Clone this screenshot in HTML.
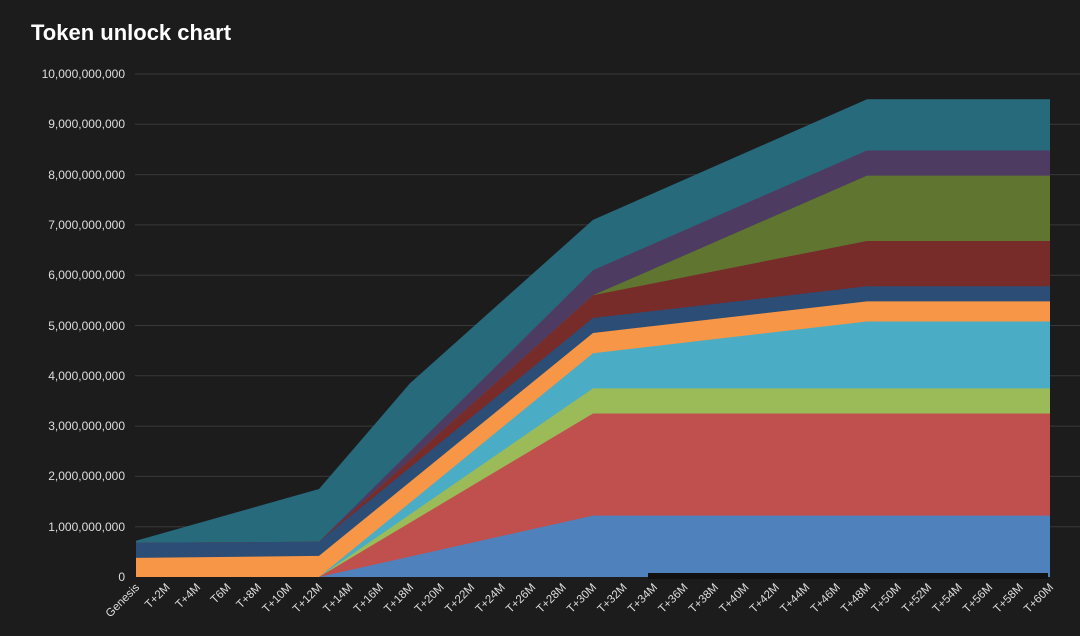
<!DOCTYPE html>
<html><head><meta charset="utf-8"><style>
html,body{margin:0;padding:0;background:#1b1b1b;}
svg{display:block;}
text{font-family:"Liberation Sans",sans-serif;}
</style></head><body>
<svg width="1080" height="636" viewBox="0 0 1080 636" xmlns="http://www.w3.org/2000/svg">
<rect width="1080" height="636" fill="#1c1c1c"/>
<text x="31" y="40" fill="#fff" font-size="22" font-weight="bold">Token unlock chart</text>
<g stroke="#383838" stroke-width="1">
<line x1="135" x2="1080" y1="526.7" y2="526.7"/><line x1="135" x2="1080" y1="476.4" y2="476.4"/>
<line x1="135" x2="1080" y1="426.1" y2="426.1"/><line x1="135" x2="1080" y1="375.8" y2="375.8"/>
<line x1="135" x2="1080" y1="325.5" y2="325.5"/><line x1="135" x2="1080" y1="275.2" y2="275.2"/>
<line x1="135" x2="1080" y1="224.9" y2="224.9"/><line x1="135" x2="1080" y1="174.6" y2="174.6"/>
<line x1="135" x2="1080" y1="124.3" y2="124.3"/><line x1="135" x2="1080" y1="74" y2="74"/>
</g>
<g fill="#ddd" font-size="12" text-anchor="end">
<text x="125" y="581">0</text><text x="125" y="531">1,000,000,000</text>
<text x="125" y="480">2,000,000,000</text><text x="125" y="430">3,000,000,000</text>
<text x="125" y="380">4,000,000,000</text><text x="125" y="330">5,000,000,000</text>
<text x="125" y="279">6,000,000,000</text><text x="125" y="229">7,000,000,000</text>
<text x="125" y="179">8,000,000,000</text><text x="125" y="128">9,000,000,000</text>
<text x="125" y="78">10,000,000,000</text>
</g>
<polygon fill="#276a7c" points="136,540.8 319,489 410,383.3 593,219.9 867,99.2 1050,99.2 1050,577 136,577"/>
<polygon fill="#4d3b62" points="136,542.8 319,541.8 593,270.2 867,150.5 1050,150.5 1050,577 136,577"/>
<polygon fill="#5f7530" points="136,542.8 319,541.8 593,295.3 867,175.6 1050,175.6 1050,577 136,577"/>
<polygon fill="#772c2a" points="136,542.8 319,541.8 593,295.3 867,241 1050,241 1050,577 136,577"/>
<polygon fill="#2c4d75" points="136,542.8 319,541.8 593,318 867,286.3 1050,286.3 1050,577 136,577"/>
<polygon fill="#f79646" points="136,557.9 319,555.9 593,333 867,301.4 1050,301.4 1050,577 136,577"/>
<polygon fill="#4bacc6" points="136,577 319,577 593,353.2 867,321.5 1050,321.5 1050,577 136,577"/>
<polygon fill="#9bbb59" points="136,577 319,577 593,388.4 867,388.4 1050,388.4 1050,577 136,577"/>
<polygon fill="#c0504d" points="136,577 319,577 593,413.5 867,413.5 1050,413.5 1050,577 136,577"/>
<polygon fill="#4f81bd" points="136,577 319,577 593,515.6 867,515.6 1050,515.6 1050,577 136,577"/>
<rect x="648" y="573" width="400" height="6" fill="#111"/>
<g fill="#ddd" font-size="11.5" text-anchor="end">
<text transform="translate(140,588) rotate(-45)">Genesis</text>
<text transform="translate(170.5,588) rotate(-45)">T+2M</text>
<text transform="translate(201,588) rotate(-45)">T+4M</text>
<text transform="translate(231.4,588) rotate(-45)">T6M</text>
<text transform="translate(261.9,588) rotate(-45)">T+8M</text>
<text transform="translate(292.4,588) rotate(-45)">T+10M</text>
<text transform="translate(322.8,588) rotate(-45)">T+12M</text>
<text transform="translate(353.3,588) rotate(-45)">T+14M</text>
<text transform="translate(383.8,588) rotate(-45)">T+16M</text>
<text transform="translate(414.2,588) rotate(-45)">T+18M</text>
<text transform="translate(444.7,588) rotate(-45)">T+20M</text>
<text transform="translate(475.2,588) rotate(-45)">T+22M</text>
<text transform="translate(505.6,588) rotate(-45)">T+24M</text>
<text transform="translate(536.1,588) rotate(-45)">T+26M</text>
<text transform="translate(566.6,588) rotate(-45)">T+28M</text>
<text transform="translate(597,588) rotate(-45)">T+30M</text>
<text transform="translate(627.5,588) rotate(-45)">T+32M</text>
<text transform="translate(658,588) rotate(-45)">T+34M</text>
<text transform="translate(688.4,588) rotate(-45)">T+36M</text>
<text transform="translate(718.9,588) rotate(-45)">T+38M</text>
<text transform="translate(749.4,588) rotate(-45)">T+40M</text>
<text transform="translate(779.8,588) rotate(-45)">T+42M</text>
<text transform="translate(810.3,588) rotate(-45)">T+44M</text>
<text transform="translate(840.8,588) rotate(-45)">T+46M</text>
<text transform="translate(871.2,588) rotate(-45)">T+48M</text>
<text transform="translate(901.7,588) rotate(-45)">T+50M</text>
<text transform="translate(932.2,588) rotate(-45)">T+52M</text>
<text transform="translate(962.6,588) rotate(-45)">T+54M</text>
<text transform="translate(993.1,588) rotate(-45)">T+56M</text>
<text transform="translate(1023.6,588) rotate(-45)">T+58M</text>
<text transform="translate(1054,588) rotate(-45)">T+60M</text>
</g>
</svg>
</body></html>
